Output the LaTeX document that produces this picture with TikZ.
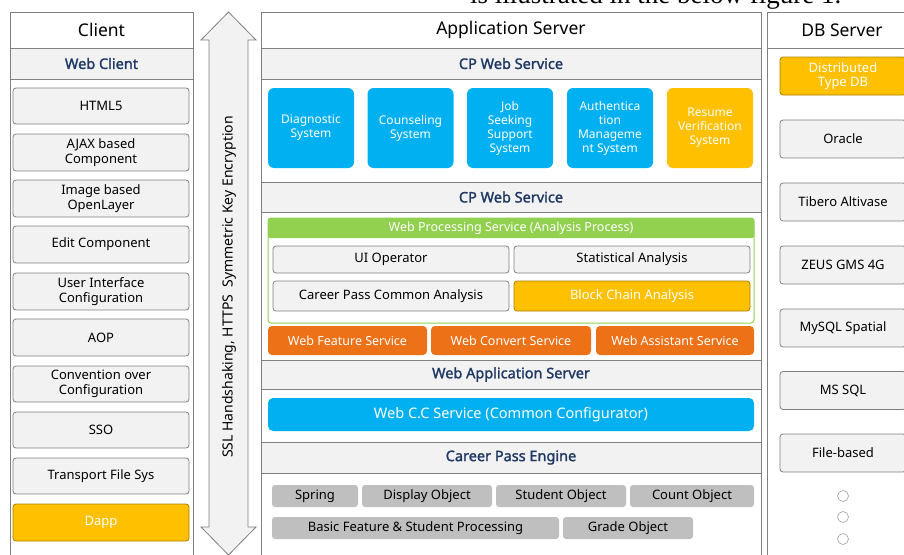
\documentclass[tikz,border=0pt]{standalone}
\usepackage{fontspec}
\setmainfont{Noto Sans}[AutoFakeBold=1.6]
\newfontfamily\captionserif{Liberation Serif}
\usepackage{xcolor}
\definecolor{lineGray}{RGB}{128, 128, 128}
\definecolor{rowGray}{RGB}{242, 242, 242}
\definecolor{cpNavy}{RGB}{31, 56, 100}
\definecolor{sysBlue}{RGB}{0, 176, 240}
\definecolor{cpGold}{RGB}{255, 192, 0}
\definecolor{goldEdge}{RGB}{170, 130, 0}
\definecolor{cpOrange}{RGB}{237, 113, 23}
\definecolor{cpGreen}{RGB}{146, 208, 80}
\definecolor{chipGray}{RGB}{191, 191, 191}

\begin{document}
\begin{tikzpicture}[x=1pt, y=-1pt,
    colframe/.style={draw=lineGray, line width=1pt},
    headbox/.style={draw=lineGray, fill=white, line width=1pt, inner sep=0pt,
                    minimum height=36pt, font=\fontsize{17.5}{20}\selectfont},
    rowbox/.style={draw=lineGray, fill=rowGray, line width=1pt, inner sep=0pt,
                   minimum width=500pt, text=cpNavy, font=\fontsize{14.5}{17}\selectfont\bfseries},
    itembox/.style={draw=lineGray, fill=rowGray, rounded corners=3pt, inner sep=0pt,
                    align=center, line width=0.8pt, font=\fontsize{13}{15.5}\selectfont},
    sysbox/.style={fill=sysBlue, rounded corners=6pt, inner sep=0pt, text=white,
                   align=center, minimum width=86pt, minimum height=80pt,
                   font=\fontsize{12}{14}\selectfont},
    goldbox/.style={itembox, fill=cpGold, draw=goldEdge, text=white},
    svcbox/.style={fill=cpOrange, rounded corners=4pt, inner sep=0pt, text=white,
                   minimum height=29pt, font=\fontsize{12.5}{15}\selectfont},
    chip/.style={fill=chipGray, rounded corners=3pt, inner sep=0pt,
                 minimum height=22pt, font=\fontsize{13}{15}\selectfont},
    dbbox/.style={itembox, minimum width=126pt, minimum height=38pt},
    dot/.style={circle, draw=lineGray, fill=white, minimum size=11pt, inner sep=0pt}]
  \useasboundingbox (0,0) rectangle (904,554);

  % caption line of the page, cut at the top
  \node[anchor=base west, inner sep=0pt, font=\captionserif\fontsize{27}{30}\selectfont]
    (captxt) at (470,4) {is illustrated in the below figure 1.};

  % ---- client column
  \draw[colframe] (10,12) rectangle (193,570);
  \node[headbox, minimum width=183pt] (client) at (101.5,30) {Client};
  \node[rowbox, minimum width=183pt, minimum height=31pt] (webclient) at (101.5,63.5) {Web Client};
  \node[itembox, minimum width=176pt, minimum height=36pt] (html) at (101,106) {HTML5};
  \node[itembox, minimum width=176pt, minimum height=37pt] (ajax) at (101,152.5) {AJAX based\\Component};
  \node[itembox, minimum width=176pt, minimum height=37pt] (image) at (101,198.5) {Image based\\OpenLayer};
  \node[itembox, minimum width=176pt, minimum height=37pt] (edit) at (101,244.5) {Edit Component};
  \node[itembox, minimum width=176pt, minimum height=37pt] (uiconf) at (101,291.5) {User Interface\\Configuration};
  \node[itembox, minimum width=176pt, minimum height=37pt] (aop) at (101,337.5) {AOP};
  \node[itembox, minimum width=176pt, minimum height=36pt] (coc) at (101,384) {Convention over\\Configuration};
  \node[itembox, minimum width=176pt, minimum height=36pt] (sso) at (101,430) {SSO};
  \node[itembox, minimum width=176pt, minimum height=36pt] (tfs) at (101,476) {Transport File Sys};
  \node[goldbox, minimum width=176pt, minimum height=37pt] (dapp) at (101,522.5) {Dapp};

  % ---- secure channel arrow
  \draw[draw=lineGray, fill=rowGray, line width=0.8pt]
    (228.5,12) -- (256,40) -- (248,40) -- (248,527) -- (256,527) -- (228.5,555)
    -- (201,527) -- (209,527) -- (209,40) -- (201,40) -- cycle;
  \node[rotate=90, inner sep=0pt, font=\fontsize{14}{16}\selectfont] (sslnote) at (229,287)
    {SSL Handshaking, HTTPS~~Symmetric Key Encryption};

  % ---- application server column
  \draw[colframe] (261,12) rectangle (761,570);
  \node[headbox, minimum width=500pt] (appsrv) at (511,30) {Application Server};
  \node[rowbox, minimum height=31pt] (cpweb) at (511,63.5) {CP Web Service};
  \node[sysbox] (diag) at (311,128) {Diagnostic\\System};
  \node[sysbox] (couns) at (410.5,128) {Counseling\\System};
  \node[sysbox] (jobs) at (510,128) {Job\\Seeking\\Support\\System};
  \node[sysbox] (auth) at (610,128) {Authentica\\tion\\Manageme\\nt System};
  \node[sysbox, fill=cpGold] (resume) at (710,128) {Resume\\Verification\\System};

  \node[rowbox, minimum height=30pt] (cpweb2) at (511,197) {CP Web Service};
  \node[draw=cpGreen, line width=1pt, fill=white, rounded corners=3pt,
        minimum width=486pt, minimum height=105pt] (wps) at (511,270.5) {};
  \node[fill=cpGreen, rounded corners=2pt, inner sep=0pt, text=white,
        minimum width=486pt, minimum height=20pt, font=\fontsize{12.5}{15}\selectfont]
    (wpshead) at (511,228) {Web Processing Service (Analysis Process)};
  \node[itembox, minimum width=236pt, minimum height=27pt] (uiop) at (391,259.5) {UI Operator};
  \node[itembox, minimum width=236pt, minimum height=27pt] (stat) at (632,259.5) {Statistical Analysis};
  \node[itembox, minimum width=236pt, minimum height=30pt] (cpca) at (391,296) {Career Pass Common Analysis};
  \node[goldbox, minimum width=236pt, minimum height=30pt] (chain) at (632,296) {Block Chain Analysis};
  \node[svcbox, minimum width=159pt] (wfs) at (347.5,340.5) {Web Feature Service};
  \node[svcbox, minimum width=160pt] (wcs) at (511,340.5) {Web Convert Service};
  \node[svcbox, minimum width=158pt] (was) at (675,340.5) {Web Assistant Service};

  \node[rowbox, minimum height=29pt] (webapp) at (511,374.5) {Web Application Server};
  \node[fill=sysBlue, rounded corners=5pt, inner sep=0pt, text=white,
        minimum width=486pt, minimum height=33pt, font=\fontsize{14.5}{17}\selectfont]
    (webcc) at (511,414.5) {Web C.C Service (Common Configurator)};

  \node[rowbox, minimum height=31pt] (engine) at (511,457.5) {Career Pass Engine};
  \node[chip, minimum width=86pt] (spring) at (315,496) {Spring};
  \node[chip, minimum width=130pt] (dispobj) at (427,496) {Display Object};
  \node[chip, minimum width=130pt] (studobj) at (561,496) {Student Object};
  \node[chip, minimum width=124pt] (cntobj) at (692,496) {Count Object};
  \node[chip, minimum width=287pt] (basic) at (415.5,528) {Basic Feature \& Student Processing};
  \node[chip, minimum width=130pt] (gradeobj) at (628,528) {Grade Object};

  % ---- db server column
  \draw[colframe] (767,12) rectangle (917,570);
  \node[headbox, minimum width=150pt] (dbsrv) at (842,30) {DB Server};
  \node[dbbox, fill=cpGold, draw=goldEdge, text=white, font=\fontsize{13}{14}\selectfont]
    (distdb) at (843,76) {Distributed\\Type DB};
  \node[dbbox] (oracle) at (843,139) {Oracle};
  \node[dbbox] (tibero) at (843,202) {Tibero Altivase};
  \node[dbbox] (zeus) at (843,265) {ZEUS GMS 4G};
  \node[dbbox] (mysql) at (843,328) {MySQL Spatial};
  \node[dbbox] (mssql) at (843,390.5) {MS SQL};
  \node[dbbox] (filedb) at (843,453) {File-based};
  \node[dot] (more1) at (843,496) {};
  \node[dot] (more2) at (843,517) {};
  \node[dot] (more3) at (843,539) {};
\end{tikzpicture}
\end{document}
